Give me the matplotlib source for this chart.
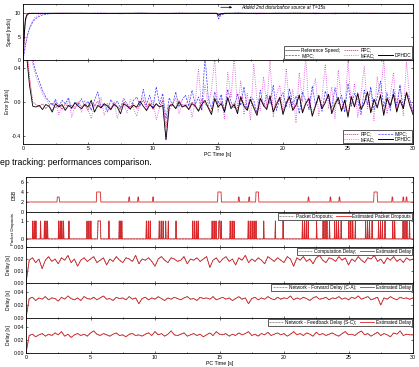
import numpy as np
import matplotlib
matplotlib.use("Agg")
import matplotlib.pyplot as plt
from matplotlib.ticker import MultipleLocator
from matplotlib.lines import Line2D

plt.rcParams['font.family'] = ['Liberation Sans', 'DejaVu Sans']

# ---- top figure: speed tracking ----
t_speed = [0, 0.05, 0.1, 0.15, 0.2, 0.3, 0.4, 0.5, 0.7, 0.9, 1.2, 1.5, 2.0, 3.0, 4.5, 6, 7.5, 9,
           10.5, 12, 13.5, 14.9, 15.05, 15.2, 15.5, 16.5, 18, 19.5, 21, 22.5, 24, 25.5, 27, 28.5, 30]
speed_ref = [10] * len(t_speed)
speed_dphdc = [0, 2.8, 5.5, 7.6, 8.9, 9.7, 9.95, 10, 10, 10, 10, 10, 10, 10, 10.02, 9.98, 10, 10.02,
               9.98, 10, 10.01, 10, 9.6, 9.9, 10, 10.02, 9.98, 10, 10.02, 9.98, 10, 10.01, 9.99, 10, 10]
speed_rpc = [0, 2.4, 4.9, 7.0, 8.4, 9.4, 9.8, 9.95, 10, 10, 10, 10, 10, 10.03, 9.98, 10, 10.02, 9.97,
             10, 10.02, 9.99, 10, 9.5, 9.85, 10, 9.97, 10.03, 9.98, 10, 10.03, 9.97, 10, 10.02, 9.98, 10]
speed_impc = [0, 0.9, 1.8, 2.7, 3.5, 4.8, 5.9, 6.7, 7.9, 8.7, 9.3, 9.65, 9.9, 10, 9.95, 10.05, 9.9, 10.05,
              9.92, 10.05, 9.95, 10, 8.8, 9.6, 9.9, 10.08, 9.9, 10.05, 9.92, 10.06, 9.9, 10.05, 9.93, 10.04, 9.95]
speed_mfac = [0, 0.7, 1.5, 2.3, 3.1, 4.5, 5.7, 6.8, 8.3, 9.1, 9.7, 9.9, 10, 10.05, 9.95, 10.03, 9.97, 10,
              10.05, 9.95, 10.03, 10, 9.0, 9.7, 10.05, 9.92, 10.08, 9.95, 10.06, 9.9, 10.07, 9.94, 10.05, 9.95, 10]

err_dphdc = [0.90, 0.60, 0.20, -0.05, -0.06, -0.04, -0.09, -0.03, -0.05, -0.12, -0.02, -0.06, -0.03, -0.10, -0.04, -0.07, -0.01, -0.05,
             -0.08, -0.03, -0.06, 0.02, -0.12, -0.04, -0.07, -0.02, -0.05, -0.09, -0.03, -0.06, -0.14, -0.02, -0.05, -0.08,
             -0.04, -0.06, 0.01, -0.05, -0.10, -0.03, -0.07, -0.02, -0.06, -0.04, -0.45, -0.05, -0.03, -0.08, 0.00, -0.06,
             -0.04, -0.09, -0.02, -0.05, -0.11, -0.03, 0.02, -0.07, -0.15, 0.04, -0.06, -0.02, -0.12, 0.05, -0.08, -0.03,
             -0.14, 0.06, -0.05, -0.10, 0.03, -0.07, -0.16, 0.04, -0.04, -0.09, 0.07, -0.12, -0.03, 0.05, -0.15, -0.02,
             0.06, -0.10, -0.04, 0.08, -0.13, -0.02, 0.04, -0.17, -0.05, 0.07, -0.08, -0.01, 0.09, -0.14, -0.03, 0.05,
             -0.11, 0.02, -0.18, 0.06, -0.06, 0.10, -0.09, -0.02, 0.12, -0.13, 0.03, -0.07, 0.08, -0.16, 0.04, -0.05,
             0.09, -0.12, 0.02, -0.08, 0.11, -0.04, -0.15]
err_impc = [0.90, 0.90, 0.70, 0.50, 0.35, 0.25, 0.14, 0.06, 0.01, -0.04, 0.03, -0.06, 0.02, -0.02, 0.05, -0.08, 0.00, -0.03,
            0.04, -0.05, 0.01, -0.10, 0.02, 0.12, -0.06, -0.02, -0.12, 0.03, -0.04, 0.01, -0.07, 0.04, -0.02, -0.09,
            0.02, 0.06, -0.05, 0.15, -0.03, 0.08, -0.08, 0.18, -0.02, 0.10, -0.20, 0.05, -0.04, 0.12, -0.06, 0.03,
            0.08, -0.05, 0.14, -0.03, 0.06, -0.10, 0.55, 0.05, -0.08, 0.12, -0.02, 0.09, -0.12, 0.15, 0.00, -0.07,
            0.10, -0.04, 0.18, -0.09, 0.06, 0.02, -0.13, 0.14, -0.05, 0.08, -0.02, 0.20, -0.10, 0.04, 0.11, -0.06,
            0.16, -0.03, 0.07, -0.14, 0.12, 0.01, -0.08, 0.19, -0.04, 0.09, -0.11, 0.13, 0.03, -0.07, 0.17, -0.02,
            0.08, -0.12, 0.22, -0.05, 0.10, 0.02, -0.15, 0.14, -0.03, 0.18, -0.09, 0.06, 0.25, -0.06, 0.11, -0.10,
            0.15, -0.04, 0.20, -0.08, 0.12, 0.03, -0.12]
err_mfac = [0.90, 0.90, 0.65, 0.45, 0.30, 0.20, 0.10, 0.03, -0.03, -0.10, 0.02, -0.15, -0.04, -0.08, 0.03, -0.18, -0.05, -0.02,
            -0.12, 0.02, -0.09, -0.20, -0.03, -0.07, 0.05, -0.16, -0.04, -0.10, 0.00, -0.19, -0.06, -0.02, -0.13, 0.03,
            -0.08, -0.17, -0.02, 0.06, -0.11, -0.05, 0.02, -0.21, -0.07, 0.04, -0.45, -0.09, -0.03, 0.05, -0.14, -0.02,
            -0.06, 0.08, -0.18, 0.00, 0.40, -0.10, 0.20, -0.05, 0.15, 0.52, -0.12, 0.06, -0.20, 0.35, 0.05, 0.55,
            -0.08, 0.25, -0.15, 0.10, -0.22, 0.45, 0.02, -0.10, 0.30, -0.05, 0.50, -0.18, 0.08, 0.20, -0.12, 0.40,
            -0.06, 0.15, -0.25, 0.35, 0.00, 0.55, -0.10, 0.12, 0.28, -0.16, 0.05, 0.45, -0.08, 0.18, -0.20, 0.38,
            0.02, -0.12, 0.50, -0.05, 0.22, -0.18, 0.10, 0.42, -0.08, 0.15, -0.22, 0.30, 0.05, 0.52, -0.14, 0.08,
            0.35, -0.10, 0.20, -0.16, 0.48, 0.03, -0.08]
err_rpc = [0.90, 0.70, 0.30, 0.00, -0.03, -0.06, -0.02, -0.08, -0.04, -0.01, -0.07, -0.03, -0.09, -0.02, -0.05, -0.04, -0.08, 0.00,
           -0.06, -0.03, -0.10, -0.02, -0.05, 0.01, -0.07, -0.04, -0.02, -0.08, -0.01, -0.05, -0.09, 0.00, -0.04, -0.06,
           -0.02, -0.08, -0.03, 0.02, -0.06, -0.01, -0.09, -0.03, -0.05, 0.01, -0.30, -0.04, -0.02, -0.07, 0.02, -0.05,
           -0.03, -0.08, 0.00, -0.04, -0.10, 0.03, -0.02, -0.06, -0.12, 0.05, -0.04, 0.00, -0.09, 0.06, -0.06, -0.01,
           -0.11, 0.07, -0.03, -0.08, 0.04, -0.05, -0.13, 0.05, -0.02, -0.07, 0.08, -0.10, -0.01, 0.06, -0.12, 0.00,
           0.07, -0.08, -0.02, 0.09, -0.11, 0.00, 0.05, -0.14, -0.03, 0.08, -0.06, 0.01, 0.10, -0.12, -0.01, 0.06,
           -0.09, 0.03, -0.15, 0.07, -0.04, 0.11, -0.07, 0.00, 0.12, -0.11, 0.04, -0.05, 0.09, -0.13, 0.05, -0.03,
           0.10, -0.10, 0.03, -0.06, 0.12, -0.02, -0.12]

# ---- bottom figure: network conditions ----
# DSB bumps: (start, end, level) above baseline 2
dsb_base = 2
dsb_bumps = [(2.4, 2.6, 3), (5.45, 5.8, 4), (7.95, 8.05, 3), (8.65, 8.75, 3), (9.8, 9.9, 3),
             (14.85, 15.15, 4), (16.45, 16.55, 3), (17.25, 17.35, 3), (17.8, 18.05, 4), (21.85, 21.95, 3),
             (23.55, 23.65, 3), (24.25, 24.35, 3), (26.95, 27.25, 4), (28.35, 28.45, 3),
             (29.2, 29.3, 3), (29.45, 29.55, 3)]
# packet dropout pulses: (start, end)
drop_pulses = [(0.5, 0.56), (0.62, 0.68), (0.74, 0.8), (1.1, 1.16), (1.4, 1.46), (1.52, 1.58), (1.64, 1.7),
               (2.5, 2.56), (2.62, 2.68), (2.75, 2.81), (2.88, 2.94), (3.3, 3.36), (4.7, 4.76), (4.85, 4.91),
               (5.0, 5.06), (5.55, 5.8), (6.4, 6.46), (7.2, 7.26), (7.3, 7.36), (7.4, 7.46), (9.3, 9.36),
               (9.45, 9.51), (9.6, 9.66), (10.3, 10.36), (10.45, 10.51), (10.6, 10.66), (10.8, 10.86),
               (11.0, 11.06), (11.6, 11.66), (12.9, 12.96), (13.05, 13.11), (13.2, 13.26), (13.32, 13.38),
               (14.4, 14.46), (14.55, 14.61), (14.7, 14.76), (14.92, 15.05), (15.1, 15.16), (15.8, 15.86),
               (15.95, 16.01), (16.1, 16.16), (17.2, 17.26), (17.35, 17.41), (17.5, 17.56), (17.65, 17.71),
               (17.8, 17.86), (18.4, 18.46), (19.3, 19.36), (19.9, 19.96), (21.4, 21.46), (21.55, 21.61),
               (21.7, 21.76), (21.85, 21.91), (22.5, 22.56), (23.0, 23.06), (23.15, 23.21), (23.3, 23.36),
               (23.5, 23.56), (23.9, 23.96), (24.05, 24.11), (24.2, 24.26), (24.4, 24.46), (25.0, 25.06),
               (25.15, 25.21), (25.3, 25.36), (25.5, 25.56), (26.3, 26.36), (26.45, 26.51), (26.6, 26.66),
               (26.8, 26.86), (27.3, 27.36), (27.45, 27.51), (27.6, 27.66), (27.8, 27.86), (28.4, 28.46),
               (28.55, 28.61), (29.2, 29.26), (29.35, 29.41), (29.5, 29.56), (29.7, 29.76)]

delay_comp = [0.000, 0.019, 0.021, 0.017, 0.020, 0.012, 0.019, 0.022, 0.018, 0.020, 0.016, 0.021, 0.019, 0.023, 0.017, 0.020,
              0.014, 0.019, 0.021, 0.018, 0.020, 0.022, 0.017, 0.019, 0.021, 0.015, 0.020, 0.018, 0.022, 0.019, 0.017, 0.021,
              0.020, 0.018, 0.023, 0.016, 0.020, 0.019, 0.021, 0.018, 0.014, 0.020, 0.022, 0.019, 0.017, 0.021, 0.020, 0.018,
              0.019, 0.022, 0.016, 0.020, 0.019, 0.021, 0.018, 0.020, 0.022, 0.013, 0.019, 0.021, 0.017, 0.020, 0.022, 0.018,
              0.020, 0.015, 0.021, 0.019, 0.023, 0.017, 0.020, 0.018, 0.021, 0.019, 0.016, 0.022, 0.020, 0.018, 0.021, 0.019,
              0.017, 0.022, 0.020, 0.014, 0.021, 0.019, 0.022, 0.018, 0.020, 0.016, 0.021, 0.023, 0.019, 0.017, 0.021, 0.020,
              0.018, 0.022, 0.019, 0.021, 0.015, 0.020, 0.018, 0.022, 0.019, 0.017, 0.021, 0.020, 0.023, 0.018, 0.020, 0.016,
              0.021, 0.019, 0.022, 0.018, 0.020, 0.017, 0.021, 0.019, 0.020]
delay_fwd = [0.000, 0.030, 0.032, 0.027, 0.031, 0.029, 0.033, 0.028, 0.031, 0.030, 0.026, 0.032, 0.029, 0.034, 0.030, 0.028,
             0.031, 0.027, 0.033, 0.030, 0.029, 0.032, 0.028, 0.031, 0.034, 0.029, 0.030, 0.027, 0.032, 0.030, 0.031, 0.028,
             0.033, 0.029, 0.031, 0.022, 0.030, 0.032, 0.028, 0.031, 0.029, 0.033, 0.030, 0.027, 0.031, 0.029, 0.032, 0.030,
             0.028, 0.031, 0.033, 0.029, 0.030, 0.027, 0.032, 0.030, 0.031, 0.029, 0.033, 0.028, 0.030, 0.032, 0.029, 0.031,
             0.027, 0.030, 0.033, 0.029, 0.031, 0.022, 0.030, 0.032, 0.028, 0.031, 0.029, 0.033, 0.030, 0.028, 0.032, 0.029,
             0.031, 0.030, 0.034, 0.028, 0.031, 0.029, 0.032, 0.030, 0.027, 0.031, 0.033, 0.029, 0.030, 0.032, 0.028, 0.031,
             0.030, 0.033, 0.029, 0.031, 0.028, 0.032, 0.030, 0.034, 0.029, 0.031, 0.033, 0.028, 0.030, 0.032, 0.020, 0.031,
             0.029, 0.033, 0.030, 0.028, 0.032, 0.030, 0.031, 0.029, 0.031]
delay_fb = [0.000, 0.027, 0.029, 0.025, 0.028, 0.030, 0.026, 0.029, 0.027, 0.031, 0.028, 0.033, 0.026, 0.029, 0.024, 0.028,
            0.030, 0.027, 0.029, 0.026, 0.031, 0.034, 0.029, 0.027, 0.030, 0.028, 0.026, 0.029, 0.031, 0.027, 0.028, 0.025,
            0.029, 0.030, 0.027, 0.028, 0.026, 0.029, 0.031, 0.027, 0.033, 0.028, 0.030, 0.026, 0.029, 0.034, 0.028, 0.027,
            0.029, 0.031, 0.026, 0.028, 0.030, 0.027, 0.029, 0.025, 0.028, 0.031, 0.027, 0.033, 0.029, 0.028, 0.030, 0.026,
            0.029, 0.027, 0.031, 0.028, 0.030, 0.033, 0.027, 0.029, 0.026, 0.030, 0.028, 0.032, 0.027, 0.029, 0.031, 0.028,
            0.030, 0.026, 0.029, 0.033, 0.028, 0.030, 0.027, 0.031, 0.029, 0.026, 0.032, 0.028, 0.030, 0.027, 0.029, 0.031,
            0.028, 0.026, 0.030, 0.033, 0.028, 0.029, 0.027, 0.031, 0.034, 0.028, 0.030, 0.026, 0.029, 0.032, 0.027, 0.030,
            0.028, 0.025, 0.031, 0.029, 0.034, 0.027, 0.029, 0.028, 0.028]

RED = '#d8262a'
FS = 3.8


def style(ax, labels=True):
    ax.set_xlim(0, 30)
    ax.xaxis.set_major_locator(MultipleLocator(5))
    ax.xaxis.set_minor_locator(MultipleLocator(2.5))
    ax.tick_params(which='both', direction='in', top=True, right=True, labelsize=FS,
                   length=1.5, width=0.4, pad=1.5, labelbottom=labels)
    ax.tick_params(which='minor', length=1.0)
    for s in ax.spines.values():
        s.set_linewidth(0.6)


def leg(ax, handles, labels, ncol, loc):
    lg = ax.legend(handles, labels, ncol=ncol, loc=loc, fontsize=3.4, frameon=True, fancybox=False,
                   edgecolor='0.25', borderaxespad=0.15, handlelength=3.0, handletextpad=0.4,
                   columnspacing=0.8, borderpad=0.25, labelspacing=0.1)
    lg.get_frame().set_linewidth(0.6)
    lg.get_frame().set_alpha(1)


def pulse_xy(pulses, base, top_level=None):
    xs, ys = [0], [base]
    for p in pulses:
        lvl = p[2] if len(p) > 2 else top_level
        xs += [p[0], p[0] + 0.03, p[1] - 0.03, p[1]]
        ys += [base, lvl, lvl, base]
    xs.append(30)
    ys.append(base)
    return xs, ys


fig = plt.figure(figsize=(4.19, 3.67), dpi=100)
W, H = 419.0, 367.0

# speed panel
ax_s = fig.add_axes([23 / W, 1 - 60 / H, 390 / W, 56 / H])
ax_s.plot(t_speed, speed_ref, color='0.35', lw=0.5)
ax_s.plot(t_speed, speed_mfac, color='#e040e0', lw=0.6, ls=':')
ax_s.plot(t_speed, speed_impc, color='#3a3aff', lw=0.5, ls='--', dashes=(3, 1.5))
ax_s.plot(t_speed, speed_rpc, color='#e02060', lw=0.5, ls='--', dashes=(2, 1))
ax_s.plot(t_speed, speed_dphdc, color='black', lw=0.7)
ax_s.set_ylim(0, 12)
ax_s.set_yticks([0, 5, 10])
style(ax_s, labels=False)
ax_s.set_ylabel('Speed [rad/s]', fontsize=3.3, labelpad=2)
h_ref = Line2D([], [], color='0.35', lw=0.5)
h_rpc = Line2D([], [], color='#e02060', lw=0.5, ls='--', dashes=(2, 1))
h_impc = Line2D([], [], color='#3a3aff', lw=0.5, ls='--', dashes=(3, 1.5))
h_mfac = Line2D([], [], color='#e040e0', lw=0.6, ls=':')
h_dphdc = Line2D([], [], color='black', lw=0.7)
h_blank = Line2D([], [], color='none')
leg(ax_s, [h_ref, h_impc, h_rpc, h_mfac, h_blank, h_dphdc],
    ['Reference Speed;', 'IMPC;', 'RPC;', 'MFAC;', '', 'DPHDC'], 3, 'lower right')
ax_s.annotate('', xy=(16.3, 11.3), xytext=(15.0, 11.3),
              arrowprops=dict(arrowstyle='-|>', color='black', lw=0.5, mutation_scale=3))
ax_s.text(16.8, 11.3, 'Added 2nd disturbance source at T=15s', fontsize=3.4, style='italic',
          va='center', ha='left')

# error panel
ax_e = fig.add_axes([23 / W, 1 - 144 / H, 390 / W, 84 / H])
for vals, kw in [(err_mfac, dict(color='#e040e0', lw=0.6, ls=':')),
                 (err_impc, dict(color='#3a3aff', lw=0.5, ls='--', dashes=(3, 1.5))),
                 (err_rpc, dict(color='#e02060', lw=0.5, ls='--', dashes=(2, 1))),
                 (err_dphdc, dict(color='black', lw=0.6))]:
    ax_e.plot(np.linspace(0, 30, len(vals)), vals, **kw)
ax_e.set_ylim(-0.5, 0.5)
ax_e.set_yticks([-0.4, 0.0, 0.4])
ax_e.set_yticklabels(['-0.4', '0.0', '0.4'])
style(ax_e)
ax_e.set_ylabel('Error [rad/s]', fontsize=3.3, labelpad=1)
ax_e.set_xlabel('PC Time [s]', fontsize=3.8, labelpad=1)
leg(ax_e, [h_rpc, h_mfac, h_impc, h_dphdc], ['RPC;', 'MFAC;', 'IMPC;', 'DPHDC'], 2, 'lower right')

fig.text(0, 1 - 162 / H, 'ep tracking: performances comparison.', fontsize=6.3, va='center', ha='left')

# bottom stacked panels
tops = [177, 212, 247, 283, 318, 353]
axs = []
for i in range(5):
    ax = fig.add_axes([26 / W, 1 - tops[i + 1] / H, 387 / W, (tops[i + 1] - tops[i]) / H])
    style(ax, labels=(i == 4))
    axs.append(ax)

dx, dy = pulse_xy(dsb_bumps, dsb_base)
axs[0].plot(dx, dy, color=RED, lw=0.6)
axs[0].set_ylim(0, 7)
axs[0].set_yticks([0, 2, 4, 6])
axs[0].set_ylabel('DSB', fontsize=3.6, labelpad=3)

px, py = pulse_xy(drop_pulses, 0, 1)
axs[1].plot(px, py, color='0.3', lw=0.4, ls='--')
axs[1].plot(px, py, color=RED, lw=0.6)
axs[1].set_ylim(-0.45, 1.5)
axs[1].set_yticks([0, 1])
axs[1].set_ylabel('Packet Dropouts', fontsize=3.2, labelpad=4)
h_act = Line2D([], [], color='0.3', lw=0.4, ls='--')
h_est = Line2D([], [], color=RED, lw=0.6)
leg(axs[1], [h_act, h_est], ['Packet Dropouts;', 'Estimated Packet Dropouts'], 2, 'upper right')

delay_sets = [(delay_comp, (0, 0.03), [0, 0.01, 0.02, 0.03], 'Computation Delay;'),
              (delay_fwd, (0, 0.054), [0, 0.02, 0.04], 'Network - Forward Delay (C-A);'),
              (delay_fb, (0, 0.054), [0, 0.02, 0.04], 'Network - Feedback Delay (S-C);')]
for ax, (vals, lim, ticks, name) in zip(axs[2:], delay_sets):
    tt = np.linspace(0, 30, len(vals))
    ax.plot(tt, vals, color='0.3', lw=0.4, ls='--')
    ax.plot(tt, vals, color=RED, lw=0.6)
    ax.set_ylim(*lim)
    ax.set_yticks(ticks)
    ax.set_yticklabels(['%.2f' % v for v in ticks])
    ax.set_ylabel('Delay [s]', fontsize=3.6, labelpad=2)
    leg(ax, [h_act, h_est], [name, 'Estimated Delay'], 2, 'upper right')
axs[4].set_xlabel('PC Time [s]', fontsize=3.8, labelpad=1)

fig.savefig('out.png', dpi=100)
